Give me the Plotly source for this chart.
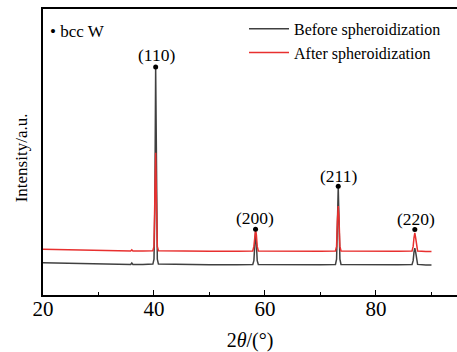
import plotly.graph_objects as go

# 2-theta positions and intensities (arbitrary units)
before_x = [20, 22, 25, 28, 30, 33, 35.8, 36.0, 36.2, 38, 39.8, 40.0, 40.15, 40.3, 40.45, 40.6, 40.8,
            45, 50, 55, 57.8, 58.0, 58.15, 58.3, 58.45, 58.6, 58.8, 62, 66, 70, 72.7, 72.9, 73.05, 73.2,
            73.35, 73.5, 73.7, 77, 80, 84, 86.5, 86.7, 86.85, 87.0, 87.15, 87.3, 87.5, 89, 90]
before_y = [113, 112, 111, 109, 108, 107, 107, 112, 107, 107, 108, 125, 300, 794, 300, 125, 108,
            106, 106, 106, 107, 120, 180, 220, 180, 120, 107, 106, 106, 106, 107, 125, 250, 378,
            250, 125, 107, 106, 106, 106, 107, 120, 150, 164, 150, 120, 107, 105, 105]

after_x = [20, 22, 25, 28, 30, 33, 35.8, 36.0, 36.2, 38, 39.8, 40.0, 40.15, 40.3, 40.45, 40.6, 40.8,
           45, 50, 55, 57.8, 58.0, 58.15, 58.3, 58.45, 58.6, 58.8, 62, 66, 70, 72.7, 72.9, 73.05, 73.2,
           73.35, 73.5, 73.7, 77, 80, 84, 86.5, 86.7, 86.85, 87.0, 87.15, 87.3, 87.5, 89, 90]
after_y = [160, 159, 158, 156, 155, 154, 154, 158, 154, 154, 155, 170, 320, 497, 320, 170, 155,
           153, 153, 153, 154, 170, 210, 227, 210, 170, 154, 153, 153, 153, 154, 170, 260, 311,
           260, 170, 154, 153, 153, 153, 154, 170, 200, 217, 200, 170, 154, 152, 152]

peak_x = [40.3, 58.3, 73.2, 87.0]
peak_dot_y = [797, 230, 380, 229]
peak_labels = ["(110)", "(200)", "(211)", "(220)"]
label_x = [40.5, 58.2, 73.3, 87.2]
label_y = [838, 269, 417, 266]

font_family = "Liberation Serif"

fig = go.Figure()
fig.add_trace(go.Scatter(x=before_x, y=before_y, mode="lines", name="Before spheroidization",
                         line=dict(color="#404040", width=1.5)))
fig.add_trace(go.Scatter(x=after_x, y=after_y, mode="lines", name="After spheroidization",
                         line=dict(color="#e8302f", width=1.5)))
fig.add_trace(go.Scatter(x=peak_x, y=peak_dot_y, mode="markers", showlegend=False,
                         marker=dict(color="black", size=5)))

for lx, ly, t in zip(label_x, label_y, peak_labels):
    fig.add_annotation(x=lx, y=ly, text=t, showarrow=False,
                       font=dict(family=font_family, size=17.5, color="black"))

fig.add_annotation(xref="paper", yref="paper", x=0.012, y=0.92, xanchor="left", yanchor="middle",
                   text="• bcc W", showarrow=False,
                   font=dict(family=font_family, size=17, color="black"))

fig.add_annotation(xref="paper", yref="paper", x=-0.051, y=0.481, xanchor="center", yanchor="middle",
                   text="Intensity/a.u.", textangle=-90, showarrow=False,
                   font=dict(family=font_family, size=17, color="black"))

fig.update_layout(
    width=457, height=352,
    margin=dict(l=43, r=0, t=9, b=57),
    paper_bgcolor="white", plot_bgcolor="white",
    font=dict(family=font_family, color="black"),
    legend=dict(x=0.4855, y=0.99, xanchor="left", yanchor="top",
                font=dict(family=font_family, size=16, color="black"),
                bgcolor="rgba(0,0,0,0)", tracegroupgap=0, itemwidth=40),
    showlegend=True,
)
fig.update_xaxes(range=[20, 94.6], showline=True, linecolor="black", linewidth=1.5, mirror=True,
                 showgrid=False, zeroline=False, ticks="inside", ticklen=5, tickwidth=1.2,
                 tickcolor="black", tickvals=[20, 40, 60, 80], ticklabelstandoff=-6,
                 minor=dict(tickvals=[30, 50, 70, 90], ticks="inside", ticklen=3, tickcolor="black"),
                 tickfont=dict(family=font_family, size=21, color="black"),
                 title=dict(text="2<i>θ</i>/(°)", font=dict(family=font_family, size=20, color="black"),
                            standoff=13))
fig.update_yaxes(range=[0, 1000], showline=True, linecolor="black", linewidth=1.5,
                 showgrid=False, zeroline=False, showticklabels=False, ticks="")

fig.write_html("out.html")
